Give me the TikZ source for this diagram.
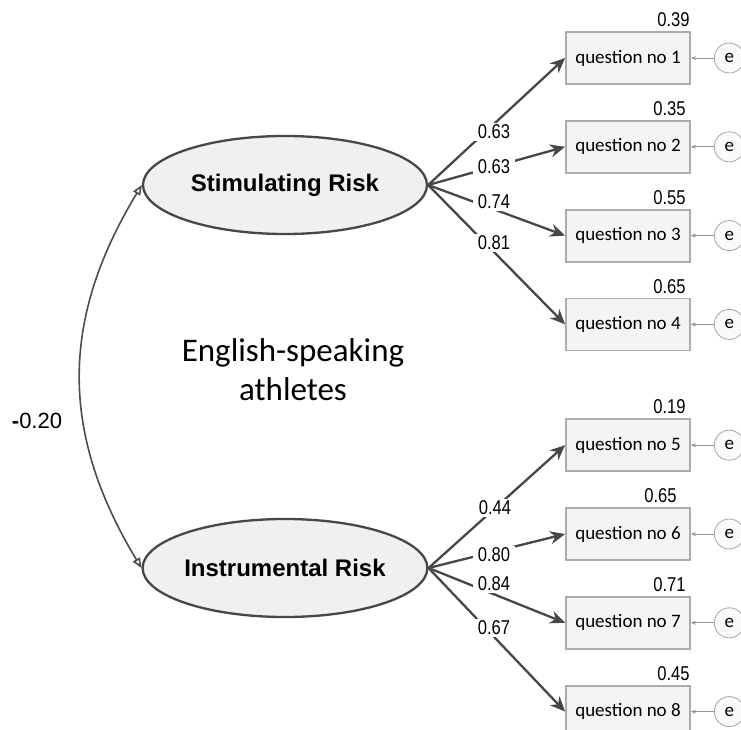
\documentclass[tikz,border=0pt]{standalone}
\usepackage{fontspec}
\setmainfont{Carlito}
\newfontfamily\numfont[FakeStretch=0.83]{Liberation Sans}
\newfontfamily\arialfont{Liberation Sans}
\usepackage{tikz}
\usetikzlibrary{arrows.meta, positioning, shapes.geometric}

\begin{document}
\begin{tikzpicture}[
  x=1pt, y=-1pt,
  node distance=35pt and 23pt,
  latent/.style={draw=black!72, line width=2.3pt, ellipse, inner sep=0pt, fill=gray!12, minimum width=284pt, minimum height=98pt, font=\arialfont\bfseries\fontsize{24}{28}\selectfont},
  qbox/.style={draw=gray!65, line width=1.8pt, fill=gray!9, minimum width=124pt, minimum height=52pt, font=\fontsize{19}{22}\selectfont},
  err/.style={draw=gray!70, line width=0.8pt, circle, fill=gray!4, minimum size=30pt, inner sep=0pt, font=\fontsize{19}{22}\selectfont},
  load/.style={-{Stealth[length=15pt, width=13pt]}, line width=2.3pt, black!72},
  errarrow/.style={-{Stealth[length=5pt, width=4pt]}, gray!85, line width=0.8pt},
  covar/.style={{Triangle[open, length=10pt, width=8pt]}-{Triangle[open, length=10pt, width=8pt]}, black!70, line width=1.6pt},
  coef/.style={font=\numfont\fontsize{20}{24}\selectfont, fill=white, inner xsep=5pt, inner ysep=2pt},
  rsq/.style={font=\numfont\fontsize{20}{24}\selectfont, anchor=south east, inner sep=1pt},
]
\useasboundingbox (0,0) rectangle (741,730);

% Latent factors
\node[latent] (stim) at (285,185) {Stimulating Risk};
\node[latent] (instr) at (285,568) {Instrumental Risk};

% Group label
\node[font=\fontsize{33}{39}\selectfont, align=center] (group) at (293,370) {English-speaking\\athletes};

% Observed items
\node[qbox] (q1) at (628,58) {question no 1};
\node[qbox, below=of q1] (q2) {question no 2};
\node[qbox, below=of q2] (q3) {question no 3};
\node[qbox, below=of q3] (q4) {question no 4};
\node[qbox, below=67pt of q4] (q5) {question no 5};
\node[qbox, below=of q5] (q6) {question no 6};
\node[qbox, below=of q6] (q7) {question no 7};
\node[qbox, below=of q7] (q8) {question no 8};

% Error terms
\node[err, right=of q1] (e1) {e};
\node[err, right=of q2] (e2) {e};
\node[err, right=of q3] (e3) {e};
\node[err, right=of q4] (e4) {e};
\node[err, right=of q5] (e5) {e};
\node[err, right=of q6] (e6) {e};
\node[err, right=of q7] (e7) {e};
\node[err, right=of q8] (e8) {e};
\draw[errarrow] (e1) -- (q1);
\draw[errarrow] (e2) -- (q2);
\draw[errarrow] (e3) -- (q3);
\draw[errarrow] (e4) -- (q4);
\draw[errarrow] (e5) -- (q5);
\draw[errarrow] (e6) -- (q6);
\draw[errarrow] (e7) -- (q7);
\draw[errarrow] (e8) -- (q8);

% Squared multiple correlations
\node[rsq] (r1) at ([yshift=3pt]q1.north east) {0.39};
\node[rsq] (r2) at ([xshift=-4pt, yshift=3pt]q2.north east) {0.35};
\node[rsq] (r3) at ([xshift=-4pt, yshift=3pt]q3.north east) {0.55};
\node[rsq] (r4) at ([xshift=-4pt, yshift=3pt]q4.north east) {0.65};
\node[rsq] (r5) at ([xshift=-4pt, yshift=3pt]q5.north east) {0.19};
\node[rsq] (r6) at ([xshift=-13pt, yshift=3pt]q6.north east) {0.65};
\node[rsq] (r7) at ([xshift=-4pt, yshift=3pt]q7.north east) {0.71};
\node[rsq] (r8) at ([yshift=3pt]q8.north east) {0.45};

% Factor loadings
\draw[load] (stim.east) -- (q1.west);
\draw[load] (stim.east) -- (q2.west);
\draw[load] (stim.east) -- (q3.west);
\draw[load] (stim.east) -- (q4.west);
\draw[load] (instr.east) -- (q5.west);
\draw[load] (instr.east) -- (q6.west);
\draw[load] (instr.east) -- (q7.west);
\draw[load] (instr.east) -- (q8.west);
\node[coef] (l1) at (494,132) {0.63};
\node[coef] (l2) at (494,167) {0.63};
\node[coef] (l3) at (494,202) {0.74};
\node[coef] (l4) at (494,243) {0.81};
\node[coef] (l5) at (495,508) {0.44};
\node[coef] (l6) at (494,555) {0.80};
\node[coef] (l7) at (494,584) {0.84};
\node[coef] (l8) at (494,628) {0.67};

% Covariance
\draw[covar] (stim.west) .. controls (60,320) and (60,433) .. (instr.west);
\node[font=\arialfont\fontsize{22}{26}\selectfont] (cov) at (37,421) {\textbf{-}0.20};

\end{tikzpicture}
\end{document}
